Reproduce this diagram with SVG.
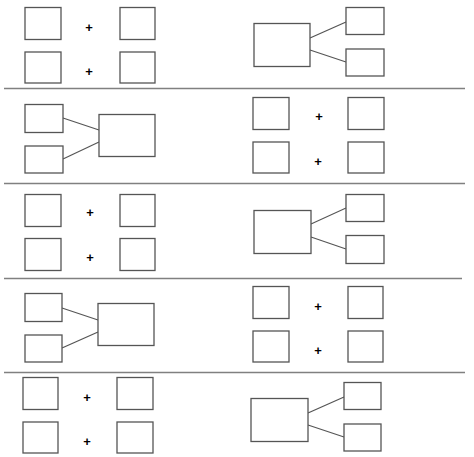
<svg xmlns="http://www.w3.org/2000/svg" width="474" height="457" viewBox="0 0 474 457">
<style>
.b{fill:#fff;stroke:#555;stroke-width:1.3}
.c{stroke:#555;stroke-width:1.2;fill:none}
.s{stroke:#808080;stroke-width:1.6}
.p{font-family:"Liberation Sans",Arial,sans-serif;font-weight:bold;font-size:13px;text-anchor:middle;fill:#000}
</style>
<rect width="474" height="457" fill="#fff"/>
<g id="separators">
<line class="s" x1="4" y1="88.5" x2="465" y2="88.5"/>
<line class="s" x1="4" y1="183.5" x2="465" y2="183.5"/>
<line class="s" x1="4" y1="278.5" x2="462" y2="278.5"/>
<line class="s" x1="4" y1="372.5" x2="465" y2="372.5"/>
</g>
<g id="connectors">
<line class="c" x1="310" y1="38" x2="346" y2="22"/>
<line class="c" x1="310" y1="50" x2="346" y2="62"/>
<line class="c" x1="63" y1="118" x2="99" y2="130"/>
<line class="c" x1="63" y1="159" x2="99" y2="142"/>
<line class="c" x1="311" y1="224" x2="346" y2="208"/>
<line class="c" x1="311" y1="237" x2="346" y2="249"/>
<line class="c" x1="62" y1="308" x2="98" y2="320"/>
<line class="c" x1="62" y1="348" x2="98" y2="332"/>
<line class="c" x1="308" y1="413" x2="344" y2="397"/>
<line class="c" x1="308" y1="425" x2="344" y2="437"/>
</g>
<g id="s1-left">
<rect class="b" x="25" y="7.5" width="36" height="32"/>
<rect class="b" x="120" y="7.5" width="35" height="32"/>
<rect class="b" x="25" y="52" width="36" height="31"/>
<rect class="b" x="120" y="52" width="35" height="31"/>
<text class="p" x="89" y="32">+</text>
<text class="p" x="89" y="76">+</text>
</g>
<g id="s1-right">
<rect class="b" x="254" y="23.5" width="56" height="43"/>
<rect class="b" x="346" y="7.5" width="38" height="27"/>
<rect class="b" x="346" y="49" width="38" height="27"/>
</g>
<g id="s2-left">
<rect class="b" x="25" y="104.5" width="38" height="28"/>
<rect class="b" x="25" y="146" width="38" height="27"/>
<rect class="b" x="99" y="114.5" width="56" height="42"/>
</g>
<g id="s2-right">
<rect class="b" x="253" y="97.5" width="36" height="32"/>
<rect class="b" x="348" y="97.5" width="36" height="32"/>
<rect class="b" x="253" y="142" width="36" height="31"/>
<rect class="b" x="348" y="142" width="36" height="31"/>
<text class="p" x="319" y="121">+</text>
<text class="p" x="318" y="166">+</text>
</g>
<g id="s3-left">
<rect class="b" x="25" y="194.5" width="36" height="32"/>
<rect class="b" x="120" y="194.5" width="35" height="32"/>
<rect class="b" x="25" y="238.5" width="36" height="32"/>
<rect class="b" x="120" y="238.5" width="35" height="32"/>
<text class="p" x="90" y="217">+</text>
<text class="p" x="90" y="262">+</text>
</g>
<g id="s3-right">
<rect class="b" x="254" y="210.5" width="57" height="43"/>
<rect class="b" x="346" y="194.5" width="38" height="27"/>
<rect class="b" x="346" y="235.5" width="38" height="28"/>
</g>
<g id="s4-left">
<rect class="b" x="25" y="293.5" width="37" height="28"/>
<rect class="b" x="25" y="335" width="37" height="27"/>
<rect class="b" x="98" y="303.5" width="56" height="42"/>
</g>
<g id="s4-right">
<rect class="b" x="253" y="286.5" width="36" height="32"/>
<rect class="b" x="348" y="286.5" width="35" height="32"/>
<rect class="b" x="253" y="331" width="36" height="31"/>
<rect class="b" x="348" y="331" width="35" height="31"/>
<text class="p" x="318" y="311">+</text>
<text class="p" x="318" y="355">+</text>
</g>
<g id="s5-left">
<rect class="b" x="23" y="377.5" width="35" height="32"/>
<rect class="b" x="117" y="377.5" width="36" height="32"/>
<rect class="b" x="23" y="422" width="35" height="31"/>
<rect class="b" x="117" y="422" width="36" height="31"/>
<text class="p" x="87" y="402">+</text>
<text class="p" x="87" y="446">+</text>
</g>
<g id="s5-right">
<rect class="b" x="251" y="398.5" width="57" height="43"/>
<rect class="b" x="344" y="382.5" width="37" height="27"/>
<rect class="b" x="344" y="424" width="37" height="27"/>
</g>
</svg>
